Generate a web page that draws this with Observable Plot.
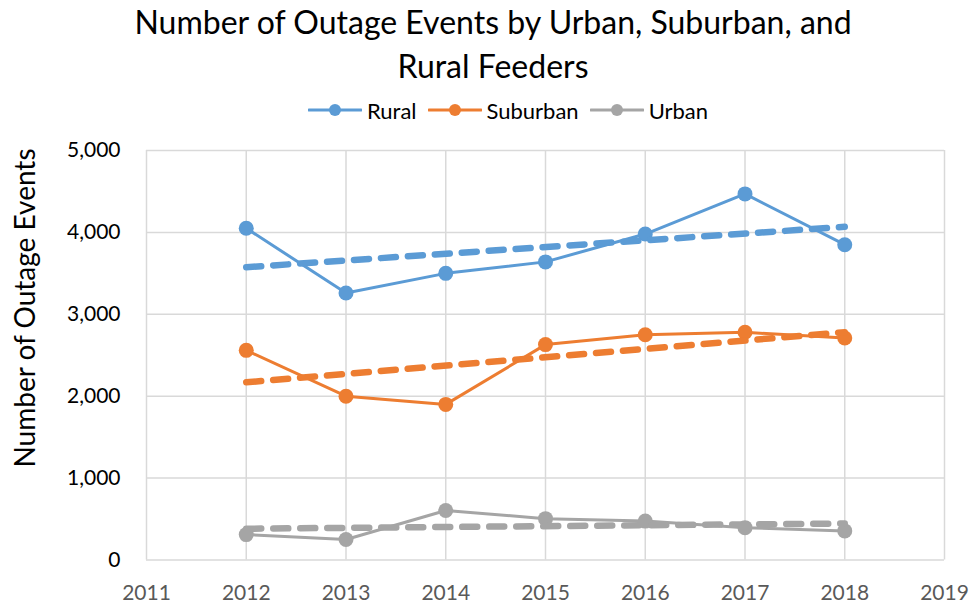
<!DOCTYPE html>
<html>
<head>
<meta charset="utf-8">
<script src="https://cdn.jsdelivr.net/npm/d3@7"></script>
<script src="https://cdn.jsdelivr.net/npm/@observablehq/plot@0.6"></script>
<style>
  body { margin: 0; background: #fff; font-family: Lato, "Open Sans", sans-serif; }
  #wrap { width: 972px; height: 604px; position: relative; overflow: hidden; background: #fff; }
  #title { height: 92px; box-sizing: border-box; padding-top: 0px; padding-left: 14px; text-align: center; font-size: 32px; line-height: 44px; color: #000; }
  #legend { height: 36px; display: flex; justify-content: center; align-items: center; gap: 11px; padding-left: 44px; font-size: 22px; color: #000; }
  .item { display: flex; align-items: center; gap: 5px; }
  #ytitle { position: absolute; left: 24px; top: 308px; transform: translate(-50%, -50%) rotate(-90deg); white-space: nowrap; font-size: 28px; color: #000; }
  #chart svg { display: block; }
</style>
</head>
<body>
<div id="wrap">
  <div id="title">Number of Outage Events by Urban, Suburban, and<br>Rural Feeders</div>
  <div id="legend"></div>
  <div id="chart"></div>
  <div id="ytitle">Number of Outage Events</div>
</div>
<script>
// ---- data ----
const years = [2012, 2013, 2014, 2015, 2016, 2017, 2018];
const rural = [4050, 3260, 3500, 3640, 3980, 4470, 3850];
const suburban = [2560, 2000, 1900, 2630, 2750, 2780, 2710];
const urban = [310, 250, 605, 505, 475, 395, 355];
const seriesNames = ["Rural", "Suburban", "Urban"];
const seriesColors = ["#5B9BD5", "#ED7D31", "#A5A5A5"];
const xTicks = [2011, 2012, 2013, 2014, 2015, 2016, 2017, 2018, 2019];
const yTicks = [0, 1000, 2000, 3000, 4000, 5000];

const seriesValues = [rural, suburban, urban];
const data = seriesNames.flatMap((s, i) =>
  years.map((yr, j) => ({ series: s, year: yr, value: seriesValues[i][j] }))
);

// ---- legend ----
const legend = document.getElementById("legend");
seriesNames.forEach((s, i) => {
  const item = document.createElement("div");
  item.className = "item";
  item.innerHTML =
    `<svg width="54" height="16"><line x1="1" y1="8" x2="53" y2="8" stroke="${seriesColors[i]}" stroke-width="3" stroke-linecap="round"/>` +
    `<circle cx="27" cy="8" r="6" fill="${seriesColors[i]}"/></svg><span>${s}</span>`;
  legend.appendChild(item);
});

// ---- chart ----
const gridColor = "#d9d9d9";
const fmtThousands = d3.format(",.0f");
const chart = Plot.plot({
  width: 972,
  height: 476,
  marginTop: 22,
  marginBottom: 44.5,
  marginLeft: 146,
  marginRight: 28,
  style: { fontFamily: "Lato, 'Open Sans', sans-serif", fontSize: "21px", background: "#fff", overflow: "visible" },
  x: { domain: [2011, 2019], label: null },
  y: { domain: [0, 5000], label: null },
  color: { domain: seriesNames, range: seriesColors },
  marks: [
    Plot.gridX(xTicks, { stroke: gridColor, strokeOpacity: 1, strokeWidth: 1.5 }),
    Plot.gridY(yTicks, { stroke: gridColor, strokeOpacity: 1, strokeWidth: 1.5 }),
    Plot.axisX(xTicks, { tickFormat: (d) => String(d), tickSize: 0, tickPadding: 25, fill: "#595959", fontSize: 21, label: null }),
    Plot.axisY(yTicks, { tickFormat: fmtThousands, tickSize: 0, tickPadding: 26, fill: "#000", fontSize: 21, label: null }),
    Plot.line(data, { x: "year", y: "value", z: "series", stroke: "series", strokeWidth: 3 }),
    Plot.dot(data, { x: "year", y: "value", fill: "series", r: 7.5 }),
    Plot.linearRegressionY(data, {
      x: "year", y: "value", z: "series", stroke: "series", ci: 0,
      strokeWidth: 6.5, strokeDasharray: "15,12", strokeLinecap: "round"
    })
  ]
});
document.getElementById("chart").appendChild(chart);
</script>
</body>
</html>
